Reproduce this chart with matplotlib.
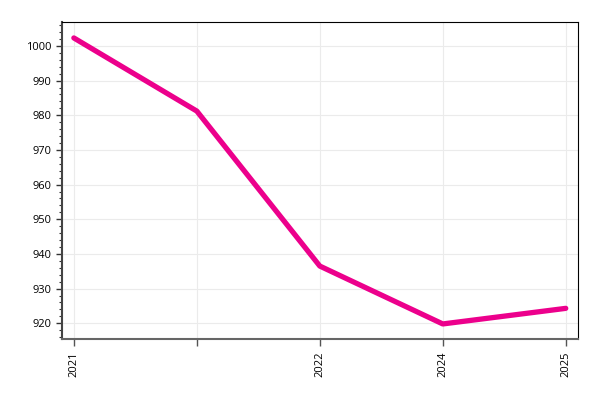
import matplotlib.pyplot as plt
from matplotlib.ticker import MultipleLocator

# data
labels = ["2021", "", "2022", "2024", "2025"]
values = [1002.3, 981.2, 936.5, 919.8, 924.3]

plt.rcParams['font.family'] = ['Open Sans', 'DejaVu Sans']

fig, ax = plt.subplots(figsize=(6, 4), dpi=100)
fig.subplots_adjust(left=0.103, right=0.963, top=0.945, bottom=0.152)

x = list(range(len(values)))
ax.plot(x, values, color='#EC008C', linewidth=3.8, solid_capstyle='round',
        solid_joinstyle='round', zorder=3)

ax.set_xlim(-0.098, 4.098)
ax.set_ylim(915.4, 1006.9)
ax.set_xticks(x)
ax.set_xticklabels(labels, rotation=90, fontsize=8)
ax.yaxis.set_major_locator(MultipleLocator(10))
ax.yaxis.set_minor_locator(MultipleLocator(2))
ax.tick_params(axis='y', labelsize=8, length=4, width=1, color='#333333')
ax.tick_params(axis='y', which='minor', length=2, width=0.8, color='#333333')
ax.tick_params(axis='x', length=5, width=1, color='#555555')

ax.grid(True, color='#ebebeb', linewidth=0.8)
ax.set_axisbelow(True)

for s in ['top', 'right']:
    ax.spines[s].set_color('black')
    ax.spines[s].set_linewidth(0.8)
ax.spines['left'].set_color('#444444')
ax.spines['left'].set_linewidth(1.5)
ax.spines['bottom'].set_color('#666666')
ax.spines['bottom'].set_linewidth(1.5)

plt.savefig('out.png')
